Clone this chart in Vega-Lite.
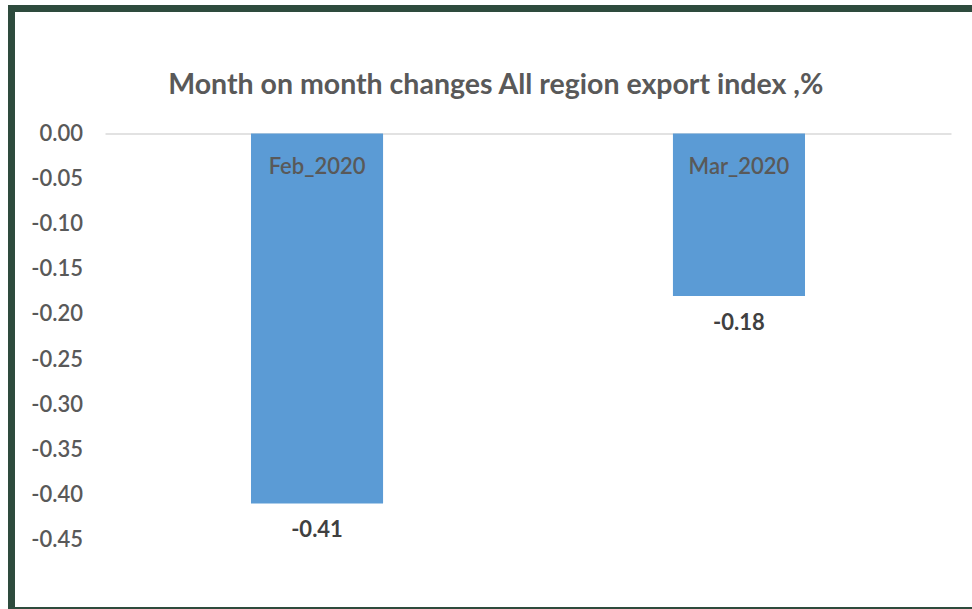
{
  "$schema": "https://vega.github.io/schema/vega-lite/v6.json",
  "autosize": {"type": "none"},
  "padding": {"left": 11.5, "top": 8.5, "right": -8, "bottom": -1.5},
  "width": 968.5,
  "height": 602,
  "background": "white",
  "config": {
    "view": {"stroke": "#2e4b3d", "strokeWidth": 7, "fill": "white"},
    "locale": {
      "number": {"decimal": ".", "thousands": ",", "grouping": [3], "currency": ["$", ""], "minus": "-"}
    }
  },
  "title": {
    "text": "Month on month changes All region export index ,%",
    "font": "Lato",
    "fontSize": 28.5,
    "fontWeight": "bold",
    "color": "#595959",
    "anchor": "middle",
    "baseline": "alphabetic",
    "offset": -114
  },
  "data": {
    "values": [
      {"month": "Feb_2020", "change": -0.41},
      {"month": "Mar_2020", "change": -0.18}
    ]
  },
  "encoding": {
    "x": {
      "field": "month",
      "type": "nominal",
      "sort": null,
      "scale": {"type": "band", "range": [93.5, 939.5], "paddingInner": 0.687, "paddingOuter": 0.346},
      "axis": null
    }
  },
  "layer": [
    {
      "mark": {"type": "bar", "color": "#5b9bd5"},
      "encoding": {
        "y": {
          "field": "change",
          "type": "quantitative",
          "scale": {"domain": [-0.45, 0], "range": [531, 125], "nice": false, "zero": false},
          "axis": {
            "values": [0, -0.05, -0.1, -0.15, -0.2, -0.25, -0.3, -0.35, -0.4, -0.45],
            "format": ".2f",
            "domain": false,
            "ticks": false,
            "labelPadding": 0,
            "offset": -71,
            "title": null,
            "grid": true,
            "gridColor": {"condition": {"test": "datum.value === 0", "value": "#d9d9d9"}, "value": "transparent"},
            "gridWidth": 1.5,
            "labelFont": "Lato",
            "labelFontSize": 22,
            "labelFontWeight": 600,
            "labelColor": "#595959"
          }
        },
        "y2": {"datum": 0}
      }
    },
    {
      "mark": {"type": "text", "font": "Lato", "fontSize": 22, "fontWeight": 600, "color": "#595959", "baseline": "middle", "dy": 33},
      "encoding": {
        "y": {"datum": 0},
        "text": {"field": "month"}
      }
    },
    {
      "mark": {"type": "text", "font": "Lato", "fontSize": 22, "fontWeight": "bold", "color": "#404040", "baseline": "middle", "dy": 27},
      "encoding": {
        "y": {"field": "change", "type": "quantitative"},
        "text": {"field": "change", "type": "quantitative", "format": ".2f"}
      }
    }
  ]
}
